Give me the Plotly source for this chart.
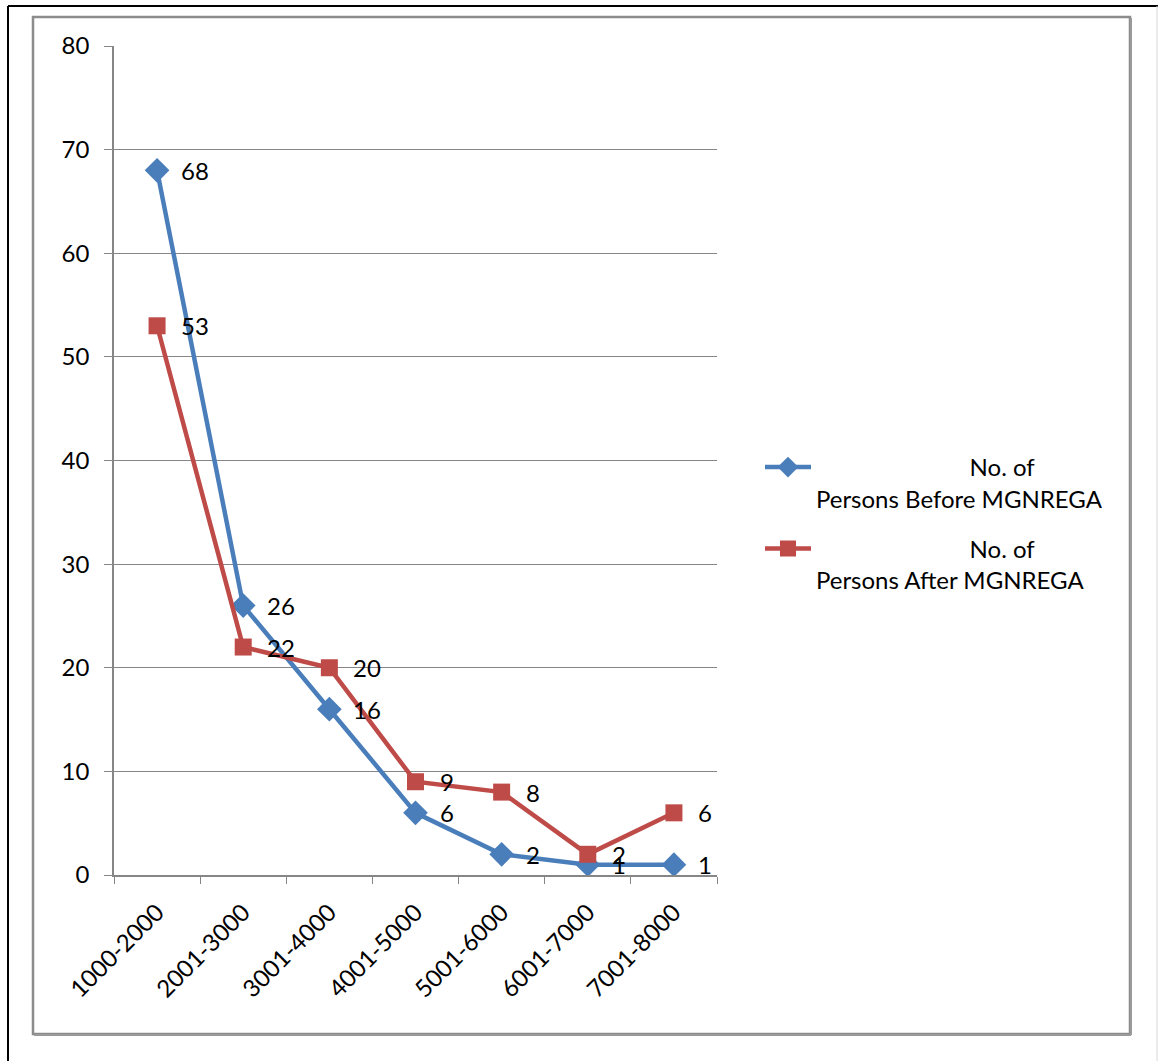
import plotly.graph_objects as go

categories = ["1000-2000", "2001-3000", "3001-4000", "4001-5000", "5001-6000", "6001-7000", "7001-8000"]
before = [68, 26, 16, 6, 2, 1, 1]
after = [53, 22, 20, 9, 8, 2, 6]
name_before = "\u00a0" * 25 + "No. of<br>Persons Before MGNREGA"
name_after = "\u00a0" * 25 + "No. of<br>Persons After MGNREGA"

BLUE = "#4a7ebb"
RED = "#be4b48"
FONT = "Lato"
FS = 24

fig = go.Figure()
fig.add_trace(go.Scatter(x=categories, y=before, name=name_before, mode="lines+markers",
                         legendgroup="before",
                         line=dict(color=BLUE, width=4.5),
                         marker=dict(symbol="diamond", size=19, color=BLUE),
                         hoverinfo="skip"))
fig.add_trace(go.Scatter(x=categories, y=after, name=name_after, mode="lines+markers",
                         legendgroup="after",
                         line=dict(color=RED, width=4.5),
                         marker=dict(symbol="square", size=17, color=RED),
                         hoverinfo="skip"))

annotations = []
for c, v in zip(categories, before):
    annotations.append(dict(x=c, y=v, xref="x", yref="y", text=str(v), showarrow=False,
                            xanchor="left", yanchor="middle", xshift=22,
                            font=dict(family=FONT, size=FS, color="black")))
for c, v in zip(categories, after):
    annotations.append(dict(x=c, y=v, xref="x", yref="y", text=str(v), showarrow=False,
                            xanchor="left", yanchor="middle", xshift=22,
                            font=dict(family=FONT, size=FS, color="black")))

W, H = 1158, 1061
L, R, T, B = 114, 717, 46, 875
pw, ph = R - L, B - T

def px(xp):
    return (xp - L) / pw

def py(yp):
    return (B - yp) / ph

shapes = [
    # gray outer chart box
    dict(type="rect", xref="paper", yref="paper", x0=px(33), x1=px(1130), y0=py(1034), y1=py(17),
         line=dict(color="#8c8c8c", width=2.5), layer="below"),
    dict(type="line", xref="paper", yref="paper", x0=px(1131), x1=px(1131), y0=py(1035), y1=py(18),
         line=dict(color="#9a9a9a", width=2)),
    dict(type="line", xref="paper", yref="paper", x0=px(34), x1=px(1131), y0=py(1035), y1=py(1035),
         line=dict(color="#9a9a9a", width=2)),
    # black frame lines
    dict(type="line", xref="paper", yref="paper", x0=px(8), x1=px(1158), y0=py(6), y1=py(6),
         line=dict(color="black", width=2)),
    dict(type="line", xref="paper", yref="paper", x0=px(8), x1=px(8), y0=py(6), y1=py(1061),
         line=dict(color="black", width=2)),
    dict(type="line", xref="paper", yref="paper", x0=px(1157), x1=px(1157), y0=py(6), y1=py(1061),
         line=dict(color="#d8d8d8", width=1)),
]

fig.update_layout(
    width=W, height=H,
    margin=dict(l=L, r=W - R, t=T, b=H - B),
    paper_bgcolor="white", plot_bgcolor="white",
    font=dict(family=FONT, size=FS, color="black"),
    showlegend=True,
    legend=dict(x=px(760), y=py(445), xanchor="left", yanchor="top",
                font=dict(family=FONT, size=FS, color="black"),
                valign="top", traceorder="grouped", tracegroupgap=16, itemwidth=46,
                bgcolor="rgba(0,0,0,0)"),
    annotations=annotations,
    shapes=shapes,
    xaxis=dict(type="category", showgrid=False, showline=True, linecolor="#868686", linewidth=1.5,
               ticks="outside", tickson="boundaries", ticklen=7, tickcolor="#868686",
               tickangle=-45, tickfont=dict(family=FONT, size=FS, color="black"),
               ticklabelstandoff=12,
               range=[-0.5, 6.5], fixedrange=True),
    yaxis=dict(range=[0, 80], dtick=10, showgrid=True, gridcolor="#868686", gridwidth=1,
               showline=True, linecolor="#868686", linewidth=1.5, zeroline=False,
               ticks="outside", ticklen=8, tickcolor="#868686",
               tickfont=dict(family=FONT, size=FS, color="black"), ticklabelstandoff=10,
               fixedrange=True),
)

fig.write_html("out.html")
